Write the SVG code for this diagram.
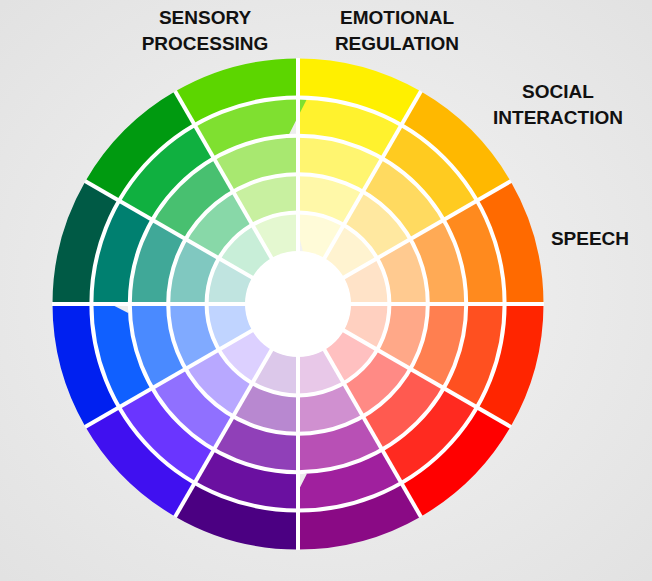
<svg xmlns="http://www.w3.org/2000/svg" width="652" height="581" viewBox="0 0 652 581">
<defs>
<radialGradient id="bg" cx="0.5" cy="0.5" r="0.7"><stop offset="0" stop-color="#f4f4f4"/><stop offset="1" stop-color="#e2e2e2"/></radialGradient>
</defs>
<style>
.r{fill:none;stroke-width:39.4}
.r0{stroke-width:39.4}
.w{fill:none;stroke:#fff;stroke-width:4}
.t{font-family:"Liberation Sans",Arial,sans-serif;font-weight:bold;font-size:19px;fill:#111;text-anchor:middle}
</style>
<rect width="652" height="581" fill="url(#bg)"/>
<g id="wheel" transform="translate(298,304)">
<!-- radii 225.8,187.4,149,110.6,72.2 ; dash offset = -start angle -->
<g id="s0" stroke-dasharray="30 330" stroke-dashoffset="-270">
<circle class="r" r="225.8" pathLength="360" stroke="#FFF000"/><circle class="r" r="187.4" pathLength="360" stroke="#FFF22E"/><circle class="r" r="149" pathLength="360" stroke="#FFF570"/><circle class="r" r="110.6" pathLength="360" stroke="#FFF8A8"/><circle class="r" r="72.2" pathLength="360" stroke="#FFFBD8"/></g>
<g id="s1" stroke-dasharray="30 330" stroke-dashoffset="-300">
<circle class="r" r="225.8" pathLength="360" stroke="#FFB800"/><circle class="r" r="187.4" pathLength="360" stroke="#FFCB20"/><circle class="r" r="149" pathLength="360" stroke="#FFDA60"/><circle class="r" r="110.6" pathLength="360" stroke="#FFE8A0"/><circle class="r" r="72.2" pathLength="360" stroke="#FFF3D0"/></g>
<g id="s2" stroke-dasharray="30 330" stroke-dashoffset="-330">
<circle class="r" r="225.8" pathLength="360" stroke="#FF6A00"/><circle class="r" r="187.4" pathLength="360" stroke="#FF8A1E"/><circle class="r" r="149" pathLength="360" stroke="#FFAA55"/><circle class="r" r="110.6" pathLength="360" stroke="#FFCA90"/><circle class="r" r="72.2" pathLength="360" stroke="#FFE3C8"/></g>
<g id="s3" stroke-dasharray="30 330" stroke-dashoffset="0">
<circle class="r" r="225.8" pathLength="360" stroke="#FF2500"/><circle class="r" r="187.4" pathLength="360" stroke="#FF5020"/><circle class="r" r="149" pathLength="360" stroke="#FF7F50"/><circle class="r" r="110.6" pathLength="360" stroke="#FFA888"/><circle class="r" r="72.2" pathLength="360" stroke="#FFD0C0"/></g>
<g id="s4" stroke-dasharray="30 330" stroke-dashoffset="-30">
<circle class="r" r="225.8" pathLength="360" stroke="#FF0000"/><circle class="r" r="187.4" pathLength="360" stroke="#FF2A20"/><circle class="r" r="149" pathLength="360" stroke="#FF5A50"/><circle class="r" r="110.6" pathLength="360" stroke="#FF8A85"/><circle class="r" r="72.2" pathLength="360" stroke="#FFC0C0"/></g>
<g id="s5" stroke-dasharray="30 330" stroke-dashoffset="-60">
<circle class="r" r="225.8" pathLength="360" stroke="#8A0A85"/><circle class="r" r="187.4" pathLength="360" stroke="#A0209E"/><circle class="r" r="149" pathLength="360" stroke="#B850B5"/><circle class="r" r="110.6" pathLength="360" stroke="#D090D0"/><circle class="r" r="72.2" pathLength="360" stroke="#E8C8E8"/></g>
<g id="s6" stroke-dasharray="30 330" stroke-dashoffset="-90">
<circle class="r" r="225.8" pathLength="360" stroke="#4B0082"/><circle class="r" r="187.4" pathLength="360" stroke="#6A10A0"/><circle class="r" r="149" pathLength="360" stroke="#9040B8"/><circle class="r" r="110.6" pathLength="360" stroke="#B888D0"/><circle class="r" r="72.2" pathLength="360" stroke="#DCC8EA"/></g>
<g id="s7" stroke-dasharray="30 330" stroke-dashoffset="-120">
<circle class="r" r="225.8" pathLength="360" stroke="#4010F0"/><circle class="r" r="187.4" pathLength="360" stroke="#6A35FF"/><circle class="r" r="149" pathLength="360" stroke="#9070FF"/><circle class="r" r="110.6" pathLength="360" stroke="#B8A8FF"/><circle class="r" r="72.2" pathLength="360" stroke="#DCD0FF"/></g>
<g id="s8" stroke-dasharray="30 330" stroke-dashoffset="-150">
<circle class="r" r="225.8" pathLength="360" stroke="#0020F0"/><circle class="r" r="187.4" pathLength="360" stroke="#1060FF"/><circle class="r" r="149" pathLength="360" stroke="#4A8AFF"/><circle class="r" r="110.6" pathLength="360" stroke="#80AAFF"/><circle class="r" r="72.2" pathLength="360" stroke="#C0D4FF"/></g>
<g id="s9" stroke-dasharray="30 330" stroke-dashoffset="-180">
<circle class="r" r="225.8" pathLength="360" stroke="#005A45"/><circle class="r" r="187.4" pathLength="360" stroke="#008070"/><circle class="r" r="149" pathLength="360" stroke="#40A898"/><circle class="r" r="110.6" pathLength="360" stroke="#80C8C0"/><circle class="r" r="72.2" pathLength="360" stroke="#C0E4E0"/></g>
<g id="s10" stroke-dasharray="30 330" stroke-dashoffset="-210">
<circle class="r" r="225.8" pathLength="360" stroke="#009A10"/><circle class="r" r="187.4" pathLength="360" stroke="#10B040"/><circle class="r" r="149" pathLength="360" stroke="#48C070"/><circle class="r" r="110.6" pathLength="360" stroke="#88D8A8"/><circle class="r" r="72.2" pathLength="360" stroke="#C8EED8"/></g>
<g id="s11" stroke-dasharray="30 330" stroke-dashoffset="-240">
<circle class="r" r="225.8" pathLength="360" stroke="#5CD600"/><circle class="r" r="187.4" pathLength="360" stroke="#7FE030"/><circle class="r" r="149" pathLength="360" stroke="#A8E870"/><circle class="r" r="110.6" pathLength="360" stroke="#C8F0A0"/><circle class="r" r="72.2" pathLength="360" stroke="#E4F8D0"/></g>
<g id="dividers">
<circle class="w" r="91.4"/><circle class="w" r="129.8"/><circle class="w" r="168.2"/><circle class="w" r="206.6"/>
<line class="w" x1="-246" y1="0" x2="246" y2="0"/>
<line class="w" x1="0" y1="-246" x2="0" y2="246"/>
<line class="w" x1="-213" y1="-123" x2="213" y2="123"/>
<line class="w" x1="-213" y1="123" x2="213" y2="-123"/>
<line class="w" x1="-123" y1="-213" x2="123" y2="213"/>
<line class="w" x1="-123" y1="213" x2="123" y2="-213"/>
</g>
<circle r="53" fill="#fff"/>
</g>
<g id="labels">
<text class="t" x="205" y="24">SENSORY</text>
<text class="t" x="205" y="50">PROCESSING</text>
<text class="t" x="397" y="24">EMOTIONAL</text>
<text class="t" x="397" y="50">REGULATION</text>
<text class="t" x="558" y="98">SOCIAL</text>
<text class="t" x="558" y="124">INTERACTION</text>
<text class="t" x="590" y="245">SPEECH</text>
</g>
</svg>
